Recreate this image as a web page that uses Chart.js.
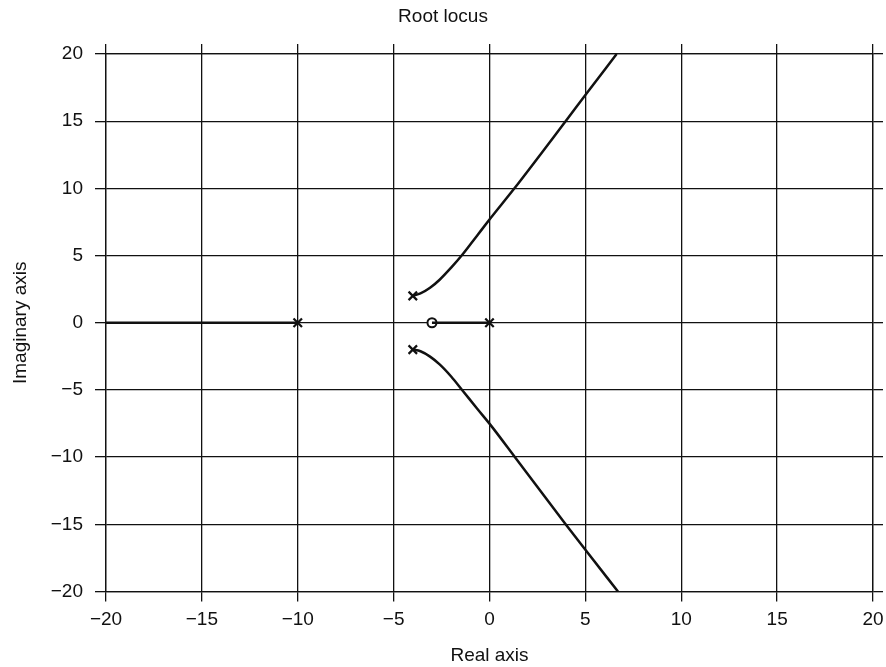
<!DOCTYPE html>
<html>
<head>
<meta charset="utf-8">
<script src="https://cdn.jsdelivr.net/npm/chart.js@4"></script>
<style>
  html, body { margin: 0; padding: 0; background: #fff; }
  #wrap { width: 886px; height: 667px; }
</style>
</head>
<body>
<div id="wrap"><canvas id="locusChart" width="886" height="667"></canvas></div>
<script>
// values
const upperX = [-4, -3.6, -3.1, -2.6, -2.0, -1.43, -0.64, 0.05, 1.27, 3.97, 5.0, 6.63];
const upperY = [2, 2.18, 2.6, 3.2, 4.1, 5.04, 6.5, 7.77, 9.95, 15, 16.95, 20];
const lowerX = [-4, -3.6, -3.1, -2.6, -2.0, -1.43, -0.64, 0.05, 1.3, 3.97, 5.0, 6.7];
const lowerY = [-2, -2.12, -2.52, -3.1, -4.0, -5.0, -6.4, -7.6, -9.95, -15, -16.9, -20];
const realLeftX = [-20, -10];
const realRightX = [-3, 0];
const poleX = [0, -10, -4, -4];
const poleY = [0, 0, 2, -2];
const zeroX = [-3];
const zeroY = [0];
const tickValues = [-20, -15, -10, -5, 0, 5, 10, 15, 20];

const toPts = (xs, ys) => xs.map((x, i) => ({ x: x, y: ys[i] }));
const fmt = v => v < 0 ? '\u2212' + Math.abs(v) : String(v);

const FONT = 'Liberation Sans';
const INK = '#111';

const gridOpts = { color: INK, lineWidth: 1.3, tickLength: 10, tickColor: INK };
const setTicks = s => { s.ticks = tickValues.map(v => ({ value: v })); };

const ctx = document.getElementById('locusChart').getContext('2d');
new Chart(ctx, {
    type: 'scatter',
    data: {
        datasets: [
            { data: toPts(realLeftX, [0, 0]), showLine: true, borderColor: INK, borderWidth: 2.5, pointRadius: 0 },
            { data: toPts(realRightX, [0, 0]), showLine: true, borderColor: INK, borderWidth: 2.5, pointRadius: 0 },
            { data: toPts(upperX, upperY), showLine: true, borderColor: INK, borderWidth: 2.5, pointRadius: 0, cubicInterpolationMode: 'monotone' },
            { data: toPts(lowerX, lowerY), showLine: true, borderColor: INK, borderWidth: 2.5, pointRadius: 0, cubicInterpolationMode: 'monotone' },
            { data: toPts(poleX, poleY), pointStyle: 'crossRot', pointRadius: 6, borderColor: INK, borderWidth: 2.2 },
            { data: toPts(zeroX, zeroY), pointStyle: 'circle', pointRadius: 4.5, borderColor: INK, backgroundColor: '#fff', borderWidth: 2 }
        ]
    },
    options: {
        responsive: false,
        animation: false,
        layout: { padding: 0 },
        plugins: {
            legend: { display: false },
            tooltip: { enabled: false },
            title: {
                display: true,
                text: 'Root locus',
                color: INK,
                font: { family: FONT, size: 19, weight: 'normal' },
                padding: { top: 5, bottom: 0 }
            }
        },
        scales: {
            x: {
                type: 'linear', position: 'bottom', min: -20, max: 20,
                afterBuildTicks: setTicks,
                afterFit: s => { s.height = 75.5; s.paddingLeft = 0; s.paddingRight = 0; },
                grid: gridOpts,
                border: { color: INK, width: 1.3 },
                ticks: { color: INK, padding: 7, font: { family: FONT, size: 19 }, callback: fmt, maxRotation: 0 },
                title: { display: true, text: 'Real axis', color: INK, font: { family: FONT, size: 19 }, padding: { top: 0, bottom: 0 } }
            },
            y: {
                type: 'linear', position: 'left', min: -20, max: 20,
                afterBuildTicks: setTicks,
                afterFit: s => { s.width = 106; s.paddingTop = 0; s.paddingBottom = 0; },
                grid: Object.assign({}, gridOpts, { tickLength: 11 }),
                border: { color: INK, width: 1.3 },
                ticks: { color: INK, padding: 12, font: { family: FONT, size: 19 }, callback: fmt },
                title: { display: true, text: 'Imaginary axis', color: INK, font: { family: FONT, size: 19 }, padding: { top: 9, bottom: 0 } }
            },
            x2: {
                type: 'linear', axis: 'x', position: 'top', min: -20, max: 20,
                afterBuildTicks: setTicks,
                afterFit: s => { s.height = 54 - 27.8; s.paddingLeft = 0; s.paddingRight = 0; },
                grid: Object.assign({}, gridOpts, { drawOnChartArea: false }),
                border: { color: INK, width: 1.3 },
                ticks: { display: false }
            },
            y2: {
                type: 'linear', axis: 'y', position: 'right', min: -20, max: 20,
                afterBuildTicks: setTicks,
                afterFit: s => { s.width = 13; s.paddingTop = 0; s.paddingBottom = 0; },
                grid: Object.assign({}, gridOpts, { drawOnChartArea: false }),
                border: { color: INK, width: 1.3 },
                ticks: { display: false }
            }
        }
    }
});
</script>
</body>
</html>
